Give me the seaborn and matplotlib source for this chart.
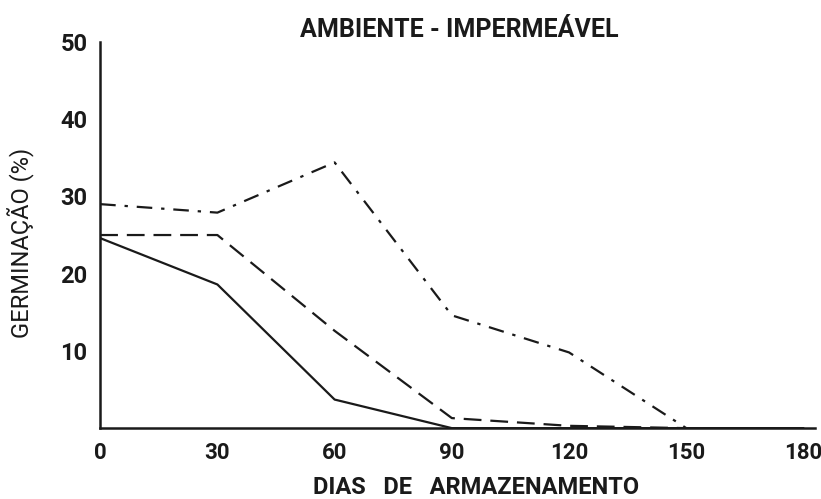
import matplotlib
matplotlib.use("Agg")
import matplotlib.pyplot as plt
import seaborn as sns
import pandas as pd

# dados
dias = [0, 30, 60, 90, 120, 150, 180]
serie_solida = [24.6, 18.6, 3.7, 0, 0, 0, 0]
serie_tracejada = [25.0, 25.0, 12.6, 1.3, 0.3, 0, 0]
serie_traco_ponto = [29.0, 27.9, 34.4, 14.6, 9.8, 0, 0]
y_ticks = [10, 20, 30, 40, 50]

df = pd.DataFrame({
    "dias": dias * 3,
    "germinacao": serie_solida + serie_tracejada + serie_traco_ponto,
    "serie": ["solida"] * 7 + ["tracejada"] * 7 + ["traco_ponto"] * 7,
})

sns.set_style("white")
plt.rcParams["font.family"] = ["Roboto", "DejaVu Sans"]

fig = plt.figure(figsize=(8.21, 4.99), dpi=100)
ax = fig.add_axes([0.122, 0.142, 0.871, 0.774])

sns.lineplot(
    data=df, x="dias", y="germinacao", style="serie", ax=ax,
    color="#1a1a1a", linewidth=1.6, legend=False,
    dashes={"solida": "", "tracejada": (8, 4), "traco_ponto": (7, 4, 1.5, 4)},
)

ax.set_xlim(0, 183)
ax.set_ylim(0, 50)
ax.set_xticks(dias)
ax.set_yticks(y_ticks)
ax.tick_params(axis="x", direction="out", length=5, width=1.5,
               labelsize=16, colors="#1a1a1a", pad=5)
ax.tick_params(axis="y", direction="out", length=5, width=1.5,
               labelsize=17, colors="#1a1a1a", pad=4)
for lbl in ax.get_xticklabels() + ax.get_yticklabels():
    lbl.set_fontweight("bold")

for s in ["top", "right"]:
    ax.spines[s].set_visible(False)
for s in ["left", "bottom"]:
    ax.spines[s].set_linewidth(1.8)
    ax.spines[s].set_color("#1a1a1a")

ax.set_xlabel("DIAS   DE   ARMAZENAMENTO", fontsize=17,
              fontweight="bold", color="#1a1a1a")
ax.xaxis.set_label_coords(0.525, -0.125)
ax.set_ylabel("GERMINAÇÃO (%)", fontsize=17, color="#1a1a1a")
ax.yaxis.set_label_coords(-0.092, 0.48)
fig.text(0.56, 0.925, "AMBIENTE - IMPERMEÁVEL", ha="center", fontsize=18,
         fontweight="bold", color="#1a1a1a")

fig.savefig("out.png", dpi=100)
